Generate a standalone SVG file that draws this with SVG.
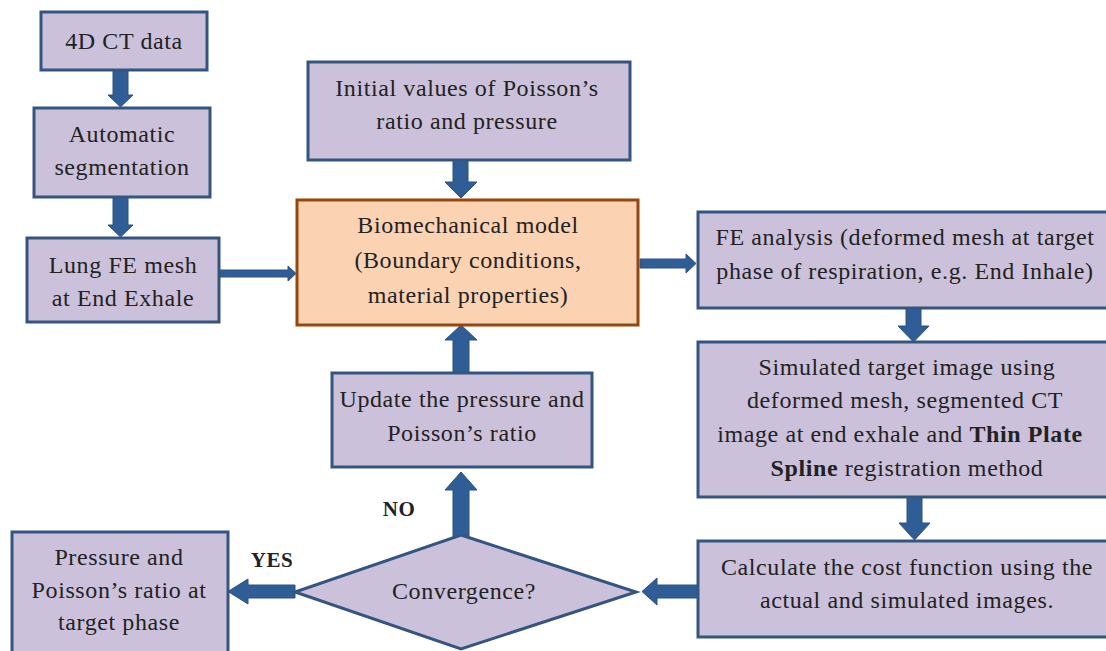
<svg xmlns="http://www.w3.org/2000/svg" width="1106" height="651" viewBox="0 0 1106 651">
<style>
.box{fill:#CCC1DA;stroke:#34557F;stroke-width:3}
.bio{fill:#FBD3B2;stroke:#97470C;stroke-width:3}
.arr{fill:#2F5E97;stroke:#2A5285;stroke-width:1}
text{font-family:"Liberation Serif","Times New Roman",serif;font-size:24px;fill:#222;text-anchor:middle;letter-spacing:0.6px}
.b{font-weight:bold}
</style>
<rect width="1106" height="651" fill="#fff"/>
<g id="connectors">
<path class="arr" d="M113,70 H128 V95 H133 L120.5,107 L108,95 H113 Z"/>
<path class="arr" d="M113,197 H128 V225 H133 L120.5,237 L108,225 H113 Z"/>
<path class="arr" d="M220,270 H288 V266 L296,273.5 L288,281 V277 H220 Z"/>
<path class="arr" d="M453,160 H468 V182 H477 L461,198 L445,182 H453 Z"/>
<path class="arr" d="M640,259 H686 V254 L696,263.5 L686,273 V268 H640 Z"/>
<path class="arr" d="M906,308 H921 V326 H929 L913.5,342 L898,326 H906 Z"/>
<path class="arr" d="M907,497 H922 V523 H930 L914.5,540 L899,523 H907 Z"/>
<path class="arr" d="M698,585 H657 V578 L642,591.5 L657,605 V598 H698 Z"/>
<path class="arr" d="M295,585 H248 V579 L228,591.5 L248,604 V598 H295 Z"/>
<path class="arr" d="M453,537 V490 H445 L461,472 L477,490 H469 V537 Z"/>
<path class="arr" d="M453,373 V340 H445 L461,325 L477,340 H469 V373 Z"/>
</g>
<g id="n-4dct">
<rect class="box" x="41" y="12" width="166" height="58"/>
<text x="124" y="49">4D CT data</text>
</g>
<g id="n-seg">
<rect class="box" x="34" y="108" width="176" height="89"/>
<text x="122" y="142">Automatic</text>
<text x="122" y="175">segmentation</text>
</g>
<g id="n-mesh">
<rect class="box" x="27" y="238" width="192" height="84"/>
<text x="123" y="273">Lung FE mesh</text>
<text x="123" y="306">at End Exhale</text>
</g>
<g id="n-init">
<rect class="box" x="308" y="62" width="322" height="98"/>
<text x="467" y="96">Initial values of Poisson’s</text>
<text x="467" y="129">ratio and pressure</text>
</g>
<g id="n-bio">
<rect class="bio" x="297" y="200" width="341" height="125"/>
<text x="468" y="233">Biomechanical model</text>
<text x="468" y="268">(Boundary conditions,</text>
<text x="468" y="303">material properties)</text>
</g>
<g id="n-fe">
<rect class="box" x="698" y="212" width="414" height="96"/>
<text x="905" y="245">FE analysis (deformed mesh at target</text>
<text x="905" y="279">phase of respiration, e.g. End Inhale)</text>
</g>
<g id="n-sim">
<rect class="box" x="698" y="342" width="414" height="155"/>
<text x="907" y="375">Simulated target image using</text>
<text x="905" y="408">deformed mesh, segmented CT</text>
<text x="900" y="442">image at end exhale and <tspan class="b">Thin Plate</tspan></text>
<text x="907" y="476"><tspan class="b">Spline</tspan> registration method</text>
</g>
<g id="n-calc">
<rect class="box" x="698" y="541" width="414" height="96"/>
<text x="907" y="575">Calculate the cost function using the</text>
<text x="907" y="608">actual and simulated images.</text>
</g>
<g id="n-update">
<rect class="box" x="332" y="373" width="260" height="94"/>
<text x="462" y="407">Update the pressure and</text>
<text x="462" y="441">Poisson’s ratio</text>
</g>
<g id="n-conv">
<polygon class="box" points="461,535 636,592 461,649 295,592"/>
<text x="464" y="599">Convergence?</text>
</g>
<g id="n-result">
<rect class="box" x="12" y="532" width="216" height="130"/>
<text x="119" y="565">Pressure and</text>
<text x="119" y="598">Poisson’s ratio at</text>
<text x="119" y="630">target phase</text>
</g>
<g id="labels">
<text class="b" x="272" y="567" style="font-size:21px">YES</text>
<text class="b" x="399" y="516" style="font-size:21px">NO</text>
</g>
</svg>
